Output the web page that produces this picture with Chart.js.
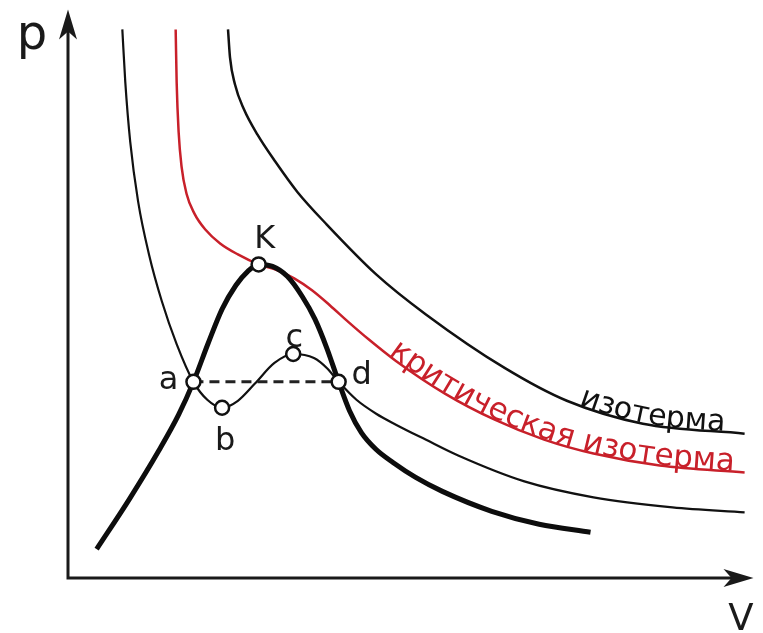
<!DOCTYPE html>
<html>
<head>
<meta charset="utf-8">
<script src="https://cdn.jsdelivr.net/npm/chart.js@4/dist/chart.umd.min.js"></script>
<style>
  body { margin: 0; background: #fff; }
  canvas { display: block; }
</style>
</head>
<body>
<canvas id="pv" width="763" height="633"></canvas>
<script>
// isotherm below the critical temperature (van der Waals loop a-b-c-d)
const lowV = [55, 58, 63, 71, 82, 95, 110, 127, 141, 156, 172, 189, 209, 228, 249, 262, 274, 292, 312, 332, 362, 395, 462, 532, 612, 685];
const lowP = [551, 498, 438, 378, 325, 278, 235, 197, 179, 171, 178, 195, 216, 225, 221, 211, 197, 179, 165, 154, 139, 123, 97, 81, 71, 66];

// critical isotherm
const critV = [109, 110, 112, 115, 120, 128, 139, 154, 172, 193, 212, 229, 247, 265, 284, 304, 332, 382, 432, 482, 532, 599, 685];
const critP = [551, 498, 448, 413, 386, 366, 350, 336, 325, 315, 309, 301, 289, 274, 257, 240, 218, 185, 159, 139, 125, 113, 106];

// isotherm above the critical temperature
const highV = [162, 164, 169, 178, 192, 210, 232, 262, 312, 362, 442, 505, 582, 685];
const highP = [551, 523, 496, 471, 445, 418, 388, 355, 305, 265, 211, 178, 155, 145];

// saturation curve through K
const satV = [29, 62, 92, 112, 127, 142, 156, 170, 182, 193, 207, 222, 237, 250, 262, 274, 285, 297, 312, 329, 352, 379, 429, 477, 529];
const satP = [29, 79, 128, 164, 197, 236, 270, 294, 308, 315, 313, 303, 283, 260, 231, 197, 168, 146, 129, 116, 101, 87, 67, 54, 46];

// horizontal segment a-d
const tieV = [127, 274];
const tieP = [197, 197];

// marked states
const markNames = ['a', 'b', 'c', 'd', 'K'];
const markV = [127, 156, 228, 274, 193];
const markP = [197, 171, 225, 197, 315];

const xyPairs = (xs, ys) => xs.map((v, i) => ({ x: v, y: ys[i] }));

// where each point letter sits relative to its marker (px)
const letterShift = {
  a: [-25, 7],
  b: [3, 42],
  c: [1, -7],
  d: [23, 2],
  K: [6, -16]
};

// sample the drawn bezier of a dataset into a dense polyline
function curvePixels(meta) {
  const pts = meta.data;
  const out = [];
  for (let i = 0; i < pts.length - 1; i++) {
    const a = pts[i], b = pts[i + 1];
    const c1x = a.cp2x ?? a.x, c1y = a.cp2y ?? a.y;
    const c2x = b.cp1x ?? b.x, c2y = b.cp1y ?? b.y;
    for (let k = 0; k < 20; k++) {
      const t = k / 20, u = 1 - t;
      out.push({
        x: u*u*u*a.x + 3*u*u*t*c1x + 3*u*t*t*c2x + t*t*t*b.x,
        y: u*u*u*a.y + 3*u*u*t*c1y + 3*u*t*t*c2y + t*t*t*b.y
      });
    }
  }
  const last = pts[pts.length - 1];
  out.push({ x: last.x, y: last.y });
  return out;
}

// write a string letter by letter along a curve, starting at pixel x = fromX
function textAlong(ctx, line, str, fromX, font, color, lift) {
  let i = line.findIndex(p => p.x >= fromX);
  if (i < 0) return;
  const seg = [];
  for (let j = i; j < line.length - 1; j++) {
    const dx = line[j + 1].x - line[j].x, dy = line[j + 1].y - line[j].y;
    seg.push({ p: line[j], dx, dy, len: Math.hypot(dx, dy) });
  }
  const at = s => {
    for (const sg of seg) {
      if (s <= sg.len || sg === seg[seg.length - 1]) {
        const f = sg.len ? s / sg.len : 0;
        return { x: sg.p.x + sg.dx * f, y: sg.p.y + sg.dy * f, ang: Math.atan2(sg.dy, sg.dx) };
      }
      s -= sg.len;
    }
  };
  ctx.save();
  ctx.font = font;
  ctx.fillStyle = color;
  ctx.textBaseline = 'alphabetic';
  let s = 0;
  for (const ch of str) {
    const w = ctx.measureText(ch).width;
    const pos = at(s + w / 2);
    ctx.save();
    ctx.translate(pos.x, pos.y);
    ctx.rotate(pos.ang);
    ctx.fillText(ch, -w / 2, -lift);
    ctx.restore();
    s += w;
  }
  ctx.restore();
}

function arrowHead(ctx, tx, ty, ang) {
  ctx.save();
  ctx.translate(tx, ty);
  ctx.rotate(ang);
  ctx.beginPath();
  ctx.moveTo(0, 0);
  ctx.lineTo(-30, -9);
  ctx.lineTo(-22, 0);
  ctx.lineTo(-30, 9);
  ctx.closePath();
  ctx.fill();
  ctx.restore();
}

const decorations = {
  id: 'decorations',
  afterDatasetsDraw(chart) {
    const ctx = chart.ctx;
    const { x, y } = chart.scales;
    const ox = x.getPixelForValue(0), oy = y.getPixelForValue(0);
    const ex = x.getPixelForValue(x.max), ey = y.getPixelForValue(y.max);

    // axes with arrows
    ctx.save();
    ctx.strokeStyle = '#1a1a1a';
    ctx.fillStyle = '#1a1a1a';
    ctx.lineWidth = 3;
    ctx.beginPath();
    ctx.moveTo(ox, oy + 1.5);
    ctx.lineTo(ox, ey + 20);
    ctx.moveTo(ox - 1.5, oy);
    ctx.lineTo(ex - 20, oy);
    ctx.stroke();
    arrowHead(ctx, ox, ey, -Math.PI / 2);
    arrowHead(ctx, ex, oy, 0);

    ctx.textAlign = 'center';
    ctx.textBaseline = 'alphabetic';
    ctx.font = '48px "DejaVu Sans"';
    ctx.fillText('p', 32, 49);
    ctx.font = '37px "DejaVu Sans"';
    ctx.fillText('V', 741, 630);

    // point letters
    ctx.font = '32px "DejaVu Sans"';
    markNames.forEach((n, i) => {
      const px = x.getPixelForValue(markV[i]), py = y.getPixelForValue(markP[i]);
      const [dx, dy] = letterShift[n];
      ctx.fillText(n, px + dx, py + dy);
    });
    ctx.restore();

    // curve captions
    const critLine = curvePixels(chart.getDatasetMeta(3));
    textAlong(ctx, critLine, 'критическая изотерма', 387, '31px "DejaVu Sans"', '#c8202a', 1);
    const highLine = curvePixels(chart.getDatasetMeta(5));
    textAlong(ctx, highLine, 'изотерма', 578, '30px "DejaVu Sans"', '#111', 1);
  }
};

const lineStyle = (color, width, order) => ({
  borderColor: color,
  borderWidth: width,
  pointRadius: 0,
  fill: false,
  cubicInterpolationMode: 'monotone',
  borderCapStyle: 'butt',
  order: order
});

new Chart(document.getElementById('pv'), {
  type: 'line',
  data: {
    datasets: [
      {
        data: xyPairs(markV, markP),
        showLine: false,
        pointRadius: 7,
        pointBorderWidth: 2.5,
        pointBackgroundColor: '#fff',
        pointBorderColor: '#111',
        order: 0
      },
      {
        data: xyPairs(tieV, tieP),
        borderColor: '#222',
        borderWidth: 3,
        borderDash: [10, 6],
        pointRadius: 0,
        order: 1
      },
      Object.assign({ data: xyPairs(satV, satP) }, lineStyle('#0d0d0d', 5, 2)),
      Object.assign({ data: xyPairs(critV, critP) }, lineStyle('#c8202a', 2.5, 3)),
      Object.assign({ data: xyPairs(lowV, lowP) }, lineStyle('#111', 2.2, 4)),
      Object.assign({ data: xyPairs(highV, highP) }, lineStyle('#111', 2.5, 5))
    ]
  },
  options: {
    responsive: false,
    animation: false,
    layout: { padding: { left: 68, right: 1, top: 7, bottom: 55 } },
    plugins: { legend: { display: false }, tooltip: { enabled: false } },
    scales: {
      x: { type: 'linear', min: 0, max: 694, display: false },
      y: { type: 'linear', min: 0, max: 571, display: false }
    }
  },
  plugins: [decorations]
});
</script>
</body>
</html>
